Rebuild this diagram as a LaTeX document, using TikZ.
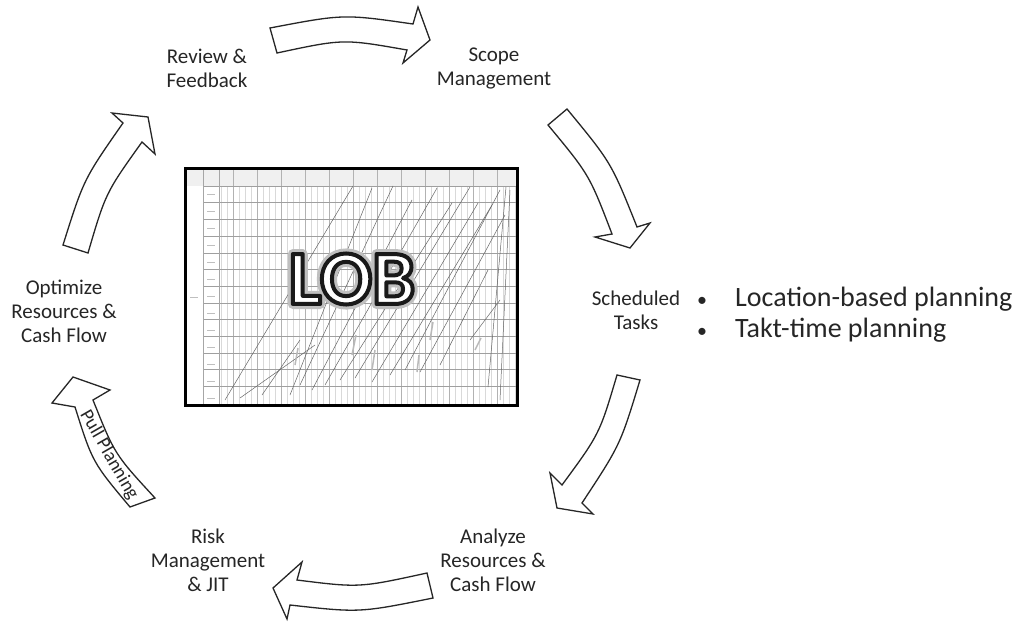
\documentclass[tikz,border=0pt]{standalone}
\usepackage{fontspec}
\setmainfont{Carlito}

\begin{document}
\begin{tikzpicture}[x=1pt, y=-1pt]
    % Define styles
    \tikzstyle{stage} = [align=center, inner sep=0pt, text=black!85, font=\fontsize{21}{24}\selectfont]
    \tikzstyle{point} = [anchor=base west, inner sep=0pt, text=black!85, font=\fontsize{28}{31}\selectfont]
    \tikzstyle{bigarrow} = [draw=black!85, fill=white, line width=1.3pt, line join=miter]
    \tikzstyle{colline} = [gray!30, line width=0.4pt]
    \tikzstyle{weekline} = [gray!60, line width=0.5pt]
    \tikzstyle{rowline} = [gray!75, line width=0.6pt]
    \tikzstyle{lobline} = [black!60, line width=0.5pt]
    \tikzstyle{title} = [font=\fontsize{77}{77}\selectfont\bfseries]

    \useasboundingbox (0,0) rectangle (1024,623);
    \fill[white] (0,0) rectangle (1024,623);

    % Centre: line of balance chart
    \fill[white] (185,168) rectangle (517,405);
    \fill[gray!12] (186,169) rectangle (516,186);
    \foreach \x in {221,227,...,515}
        \draw[colline] (\x,186) -- (\x,404);
    \foreach \x in {233,257,...,515}
        \draw[weekline] (\x,170) -- (\x,404);
    \foreach \y in {186,202.7,...,400}
        \draw[rowline] (203,\y) -- (516,\y);
    \draw[gray!70] (203,169) -- (203,404);
    \draw[gray!70] (219,169) -- (219,404);
    \foreach \y in {194,211,...,400}
        \draw[gray!50, line width=1pt] (207,\y) -- (215,\y);
    \draw[gray!50, line width=1pt] (190,297) -- (198,297);
    \foreach \xa/\ya/\xb/\yb in {225/400/353/186, 240/398/315/345, 262/395/300/340,
        290/395/372/188, 300/385/393/186, 312/390/412/200, 325/385/437/188,
        340/380/452/203, 355/378/470/187, 372/382/478/203, 390/375/492/205,
        405/370/500/190, 420/372/505/215, 440/365/488/270, 470/340/500/300,
        488/387/506/187, 500/400/510/190}
        \draw[lobline] (\xa,\ya) -- (\xb,\yb);
    \foreach \xa/\ya/\xb/\yb in {352/355/356/335, 372/370/375/350, 430/340/433/322,
        475/350/481/338, 295/365/298/348, 417/372/419/355}
        \draw[gray!55, line width=1.5pt] (\xa,\ya) -- (\xb,\yb);
    \draw[line width=3pt] (185,168) rectangle (517,405);

    % Centre title: soft shadow, then outlined letters
    \node[title, text=black!30] (lobglow) at (352,279)
        {\special{pdf:literal direct 2 Tr 10 w 1 j 0.75 G}LOB\special{pdf:literal direct 0 Tr 0.4 w 0 j}};
    \node[title, text=white] (lob) at (352,279)
        {\special{pdf:literal direct 2 Tr 4 w 1 j 0.1 G}LOB\special{pdf:literal direct 0 Tr 0.4 w 0 j}};

    % Cycle arrows
    \draw[bigarrow] (270,28) .. controls (343.5,14) .. (413,24) -- (418,7) -- (430,40)
        -- (403,63) -- (407,50) .. controls (343.3,38.8) .. (277,53) -- cycle;
    \draw[bigarrow] (567,109) .. controls (611.3,162.7) .. (637,227) -- (650,223) -- (630,248)
        -- (595,237) -- (612,234) .. controls (589.3,174.8) .. (548,125) -- cycle;
    \draw[bigarrow] (640,380) .. controls (620.3,444.8) .. (582,503) -- (593,514) -- (557,508)
        -- (550,473) -- (562,485) .. controls (599.5,434) .. (617,375) -- cycle;
    \draw[bigarrow] (433,598) .. controls (359.5,612.8) .. (290,605) -- (287,619) -- (273,588)
        -- (302,562) -- (297,580) .. controls (359.3,587.8) .. (427,573) -- cycle;
    \draw[bigarrow] (130,507) .. controls (92.5,462.3) .. (75,407) -- (52,403) -- (73,377)
        -- (110,390) -- (93,400) .. controls (114.7,454.3) .. (155,498) -- cycle;
    \draw[bigarrow] (63,245) .. controls (83.7,179.3) .. (123,123) -- (112,113) -- (148,117)
        -- (155,154) -- (142,142) .. controls (105.7,192.8) .. (88,253) -- cycle;
    \node[inner sep=0pt, rotate=-60, text=black!85, font=\fontsize{19}{19}\selectfont] (pull)
        at (109,455) {Pull Planning};

    % Stage labels
    \node[stage] (review) at (207,68) {Review \&\\Feedback};
    \node[stage] (scope) at (494,68) {Scope\\Management};
    \node[stage] (sched) at (636,310) {Scheduled\\Tasks};
    \node[stage] (analyze) at (493,560) {Analyze\\Resources \&\\Cash Flow};
    \node[stage] (risk) at (208,560) {Risk\\Management\\\& JIT};
    \node[stage] (optimize) at (64,311) {Optimize\\Resources \&\\Cash Flow};

    % Planning methods
    \node[point] (loc) at (697,306) {\makebox[38pt][l]{\fontsize{20}{20}\selectfont\textbullet}Location-based planning};
    \node[point] (takt) at (697,337) {\makebox[38pt][l]{\fontsize{20}{20}\selectfont\textbullet}Takt-time planning};
\end{tikzpicture}
\end{document}
